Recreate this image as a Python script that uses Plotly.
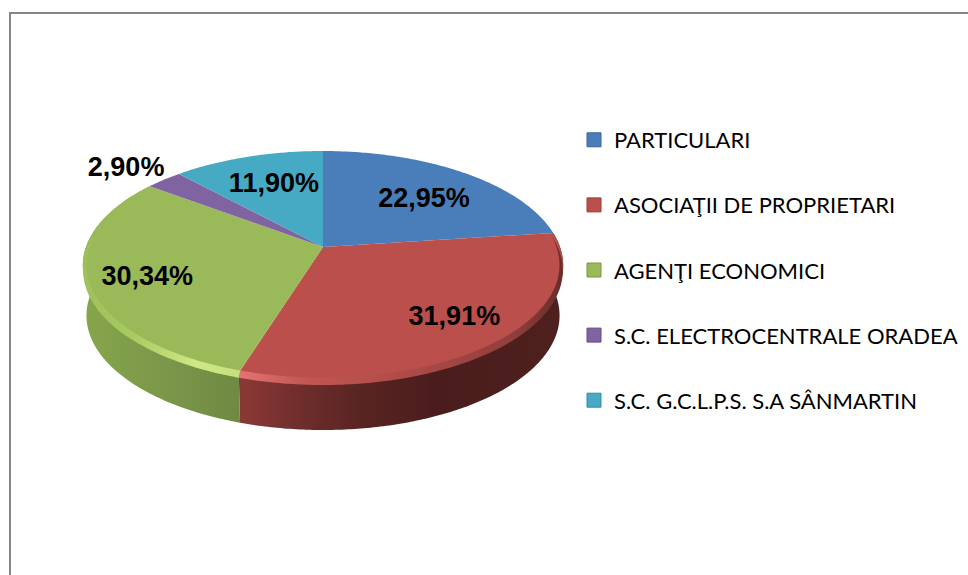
import math
import plotly.graph_objects as go

CATEGORIES = ["PARTICULARI", "ASOCIAŢII DE PROPRIETARI", "AGENŢI ECONOMICI",
              "S.C. ELECTROCENTRALE ORADEA", "S.C. G.C.L.P.S. S.A SÂNMARTIN"]
VALUES = [22.95, 31.91, 30.34, 2.90, 11.90]

COLORS = ["#4a7ebb", "#bb4f4c", "#9aba5a", "#8064a2", "#47aac5"]
EDGE_COLORS = ["#3a6497", "#963f3d", "#7b9548", "#664f81", "#388a9e"]
LABEL_RADIUS = [0.70, 0.78, 0.75, 1.27, 0.62]
LABEL_NUDGE_Y = [7, -3, 5, 5, -3]

# view of the tilted disc, in the 968x575 pixel frame
CX, CY, RX, RY, TILT, DEPTH, TAPER = 323, 247, 237, 111.5, 0.1616, 50, 0.985


def project(deg, r=1.0, drop=0.0):
    a = math.radians(deg)
    u, v = r * math.sin(a), r * math.cos(a)
    w = 1 + TILT * v
    s = 1 - (1 - TAPER) * drop / DEPTH
    return CX + s * RX * u / w, CY - RY * v / w + drop


def arc(a0, a1, r=1.0, drop=0.0):
    n = max(4, int(abs(a1 - a0) * 1.5))
    pts = [project(a0 + (a1 - a0) * i / n, r, drop) for i in range(n + 1)]
    return [p[0] for p in pts], [p[1] for p in pts]


def band(a0, a1, r0, d0, r1, d1):
    x0, y0 = arc(a0, a1, r0, d0)
    x1, y1 = arc(a0, a1, r1, d1)
    return x0 + x1[::-1] + x0[:1], y0 + y1[::-1] + y0[:1]


total = sum(VALUES)
edges = [0.0]
for val in VALUES:
    edges.append(edges[-1] + val / total * 360)

fig = go.Figure()

WALLS = {
    1: (243, 562, [[0, "#8a3836"], [0.15, "#732f2e"], [0.35, "#5a2523"], [0.6, "#4a1d1c"], [1, "#4e201e"]]),
    2: (84, 243, [[0, "#86a64b"], [0.5, "#7b974a"], [1, "#6e8a42"]]),
}
BEVELS = {
    1: (243, 562, edges[1], edges[2],
        [[0, "#e0726f"], [0.2, "#c25653"], [0.55, "#ab4a47"], [0.85, "#8f3e3c"], [1, "#6a2d2b"]]),
    2: (84, 243, edges[2], edges[2] + 85,
        [[0, "#a0c05c"], [0.3, "#a8ca60"], [0.7, "#cfe886"], [1, "#c6df7e"]]),
}

for i, (x_a, x_b, scale) in WALLS.items():
    x, y = band(edges[i], edges[i + 1], 1.0, 0, 1.0, DEPTH)
    fig.add_trace(go.Scatter(x=x, y=y, mode="none", fill="toself", showlegend=False, hoverinfo="skip",
                             fillgradient=dict(type="horizontal", colorscale=scale, start=x_a, stop=x_b)))

for i, name in enumerate(CATEGORIES):
    x, y = arc(edges[i], edges[i + 1])
    x = [CX] + x + [CX]
    y = [CY] + y + [CY]
    fig.add_trace(go.Scatter(x=x, y=y, mode="none", fill="toself", fillcolor=COLORS[i],
                             showlegend=False, name=name, hoverinfo="name"))

for x_a, x_b, a0, a1, scale in BEVELS.values():
    x, y = band(a0, a1, 0.985, 0, 1.0, 5)
    fig.add_trace(go.Scatter(x=x, y=y, mode="none", fill="toself", showlegend=False, hoverinfo="skip",
                             fillgradient=dict(type="horizontal", colorscale=scale, start=x_a, stop=x_b)))

lx, ly, lt = [], [], []
for i, val in enumerate(VALUES):
    mid = (edges[i] + edges[i + 1]) / 2
    px, py = project(mid, LABEL_RADIUS[i])
    lx.append(px)
    ly.append(py + LABEL_NUDGE_Y[i])
    lt.append(f"{val:.2f}%".replace(".", ","))
fig.add_trace(go.Scatter(x=lx, y=ly, text=lt, mode="text", textposition="middle center", showlegend=False,
                         hoverinfo="skip",
                         textfont=dict(family="Liberation Sans", size=27, color="#000000", weight="bold")))

for i, name in enumerate(CATEGORIES):
    fig.add_trace(go.Scatter(x=[None], y=[None], mode="markers", name=name, legendgroup=name,
                             marker=dict(symbol="square", size=14, color=COLORS[i],
                                         line=dict(color=EDGE_COLORS[i], width=1))))

fig.update_layout(
    width=968, height=575, margin=dict(l=0, r=0, t=0, b=0),
    paper_bgcolor="#ffffff", plot_bgcolor="#ffffff",
    xaxis=dict(range=[0, 968], visible=False, fixedrange=True),
    yaxis=dict(range=[575, 0], visible=False, fixedrange=True),
    legend=dict(x=574 / 968, y=1 - 119 / 575, xanchor="left", yanchor="top", tracegroupgap=33.5,
                bgcolor="rgba(0,0,0,0)", font=dict(family="Lato", size=22, color="#000000")),
    shapes=[dict(type="rect", xref="paper", yref="paper", x0=10 / 968, x1=1.02, y0=-0.02, y1=1 - 13 / 575,
                 line=dict(color="#868686", width=2), fillcolor="rgba(0,0,0,0)", layer="below")],
)
fig.write_html("out.html", config={"displayModeBar": False},
               post_script="document.body.style.margin='0';document.body.style.overflow='hidden';")
